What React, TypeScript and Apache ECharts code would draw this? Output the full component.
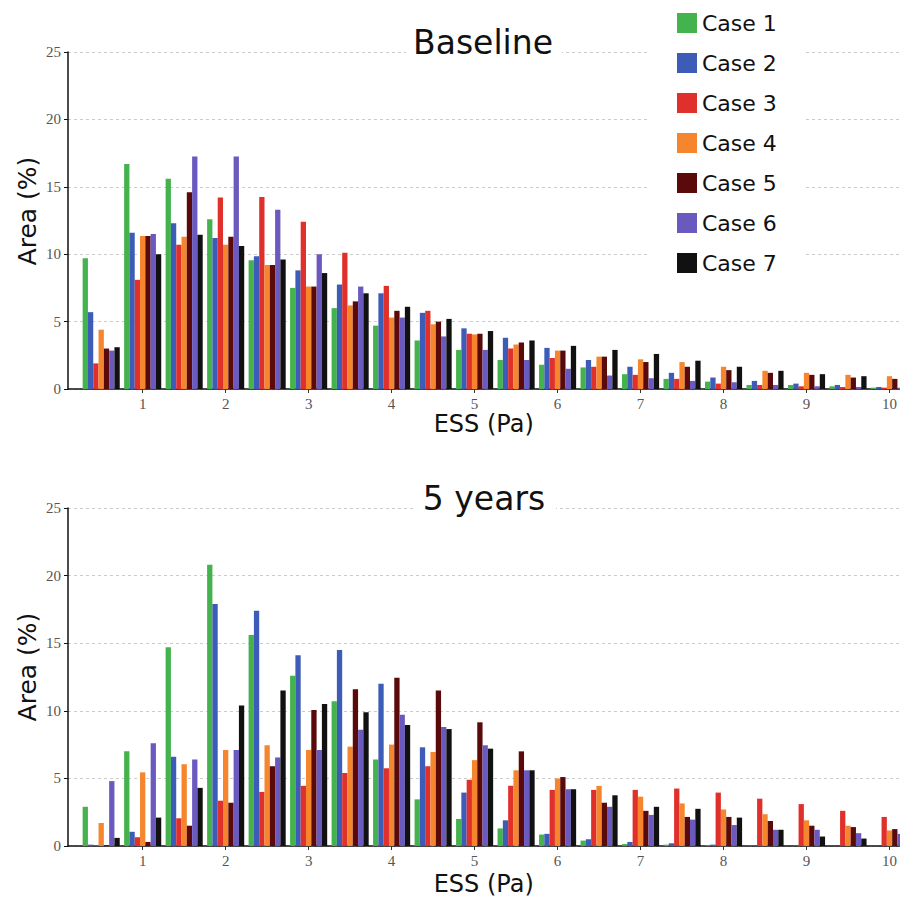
import React, { useEffect, useRef } from "react";
import * as echarts from "echarts";

// ESS bin centres (Pa)
const bins = [0.5, 1, 1.5, 2, 2.5, 3, 3.5, 4, 4.5, 5, 5.5, 6, 6.5, 7, 7.5, 8, 8.5, 9, 9.5, 10];
const xTickValues = [1, 2, 3, 4, 5, 6, 7, 8, 9, 10];
const caseNames = ["Case 1", "Case 2", "Case 3", "Case 4", "Case 5", "Case 6", "Case 7"];
const caseColors = ["#45b34d", "#3d5cb8", "#e0302c", "#f5862d", "#5a0a0a", "#6a5ac0", "#111111"];

// Baseline panel, Area (%)
const baseCase1 = [9.7, 16.7, 15.6, 12.6, 9.55, 7.5, 6.0, 4.7, 3.6, 2.9, 2.15, 1.8, 1.6, 1.1, 0.75, 0.55, 0.3, 0.3, 0.2, 0.1];
const baseCase2 = [5.7, 11.6, 12.3, 11.2, 9.85, 8.8, 7.75, 7.1, 5.65, 4.5, 3.8, 3.05, 2.15, 1.65, 1.2, 0.85, 0.6, 0.4, 0.3, 0.15];
const baseCase3 = [1.9, 8.1, 10.7, 14.2, 14.25, 12.4, 10.1, 7.65, 5.8, 4.1, 3.0, 2.3, 1.65, 1.05, 0.75, 0.4, 0.3, 0.2, 0.15, 0.1];
const baseCase4 = [4.4, 11.35, 11.3, 10.7, 9.2, 7.6, 6.2, 5.3, 4.8, 4.05, 3.3, 2.85, 2.4, 2.2, 2.0, 1.65, 1.35, 1.2, 1.05, 0.95];
const baseCase5 = [3.0, 11.35, 14.6, 11.3, 9.2, 7.6, 6.5, 5.8, 5.0, 4.1, 3.45, 2.85, 2.4, 2.0, 1.65, 1.4, 1.2, 1.05, 0.85, 0.75];
const baseCase6 = [2.85, 11.5, 17.25, 17.25, 13.3, 10.0, 7.6, 5.3, 3.9, 2.9, 2.15, 1.5, 1.0, 0.8, 0.6, 0.5, 0.3, 0.2, 0.15, 0.1];
const baseCase7 = [3.1, 10.0, 11.45, 10.6, 9.6, 8.6, 7.1, 6.1, 5.2, 4.3, 3.6, 3.2, 2.9, 2.6, 2.1, 1.65, 1.35, 1.1, 0.95, 0.8];

// 5 years panel, Area (%)
const fiveCase1 = [2.9, 7.0, 14.7, 20.8, 15.6, 12.6, 10.7, 6.4, 3.45, 2.0, 1.3, 0.85, 0.4, 0.15, 0.1, 0.05, 0.02, 0, 0, 0];
const fiveCase2 = [0.1, 1.05, 6.6, 17.9, 17.4, 14.1, 14.5, 12.0, 7.3, 3.95, 1.9, 0.9, 0.5, 0.3, 0.2, 0.1, 0.05, 0.05, 0, 0];
const fiveCase3 = [0.05, 0.65, 2.05, 3.35, 4.0, 4.45, 5.4, 5.75, 5.9, 4.9, 4.45, 4.15, 4.15, 4.15, 4.25, 3.95, 3.5, 3.1, 2.6, 2.15];
const fiveCase4 = [1.7, 5.45, 6.05, 7.1, 7.45, 7.1, 7.35, 7.5, 6.95, 6.35, 5.6, 5.0, 4.45, 3.65, 3.15, 2.7, 2.35, 1.9, 1.5, 1.15];
const fiveCase5 = [0.05, 0.3, 1.5, 3.2, 5.9, 10.05, 11.6, 12.45, 11.5, 9.15, 7.0, 5.1, 3.2, 2.6, 2.15, 2.15, 1.85, 1.5, 1.4, 1.25];
const fiveCase6 = [4.8, 7.6, 6.4, 7.1, 6.55, 7.1, 8.6, 9.7, 8.8, 7.45, 5.6, 4.2, 2.9, 2.3, 1.95, 1.55, 1.2, 1.2, 0.95, 0.9];
const fiveCase7 = [0.6, 2.1, 4.3, 10.4, 11.5, 10.5, 9.9, 8.95, 8.65, 7.2, 5.6, 4.2, 3.75, 2.9, 2.75, 2.1, 1.2, 0.7, 0.55, 0.4];

const baseSeries = [baseCase1, baseCase2, baseCase3, baseCase4, baseCase5, baseCase6, baseCase7];
const fiveSeries = [fiveCase1, fiveCase2, fiveCase3, fiveCase4, fiveCase5, fiveCase6, fiveCase7];
const panelTitles = ["Baseline", "5 years"];

const SANS = "DejaVu Sans";
const SERIF = "Liberation Serif";

function makeAxes() {
  const xAxis = [0, 1].map((i) => ({
    type: "value",
    gridIndex: i,
    min: 0.1,
    max: 10.12,
    name: "ESS (Pa)",
    nameLocation: "middle",
    nameGap: i === 0 ? 18 : 26,
    nameTextStyle: { fontFamily: SANS, fontSize: 24, color: "#111" },
    axisLine: { show: true, onZero: false, lineStyle: { color: "#111", width: 1.5 } },
    axisTick: { show: true, customValues: xTickValues, length: 4, lineStyle: { color: "#333" } },
    axisLabel: { customValues: xTickValues, fontFamily: SERIF, fontSize: 15, color: "#555", margin: 7 },
    splitLine: { show: false },
  }));
  const yAxis = [0, 1].map((i) => ({
    type: "value",
    gridIndex: i,
    min: 0,
    max: 25,
    interval: 5,
    axisLine: { show: true, lineStyle: { color: "#111", width: 1.5 } },
    axisTick: { show: true, length: 4, lineStyle: { color: "#111" } },
    axisLabel: { fontFamily: SERIF, fontSize: 15, color: "#555", margin: 7 },
    splitLine: { show: true, lineStyle: { color: "#cccccc", type: [3, 3], width: 1 } },
  }));
  return { xAxis, yAxis };
}

function makeSeries() {
  const out: any[] = [];
  [baseSeries, fiveSeries].forEach((panel, p) => {
    panel.forEach((vals, c) => {
      out.push({
        type: "bar",
        name: caseNames[c],
        xAxisIndex: p,
        yAxisIndex: p,
        data: bins.map((b, k) => [b, vals[k]]),
        barWidth: 5.3,
        barGap: "0%",
        clip: true,
        itemStyle: { color: caseColors[c] },
      });
    });
  });
  return out;
}

function textEl(text: string, x: number, y: number, size: number, rotation = 0) {
  return {
    type: "text",
    x,
    y,
    rotation,
    z: 60,
    style: {
      text,
      font: `normal ${size}px "${SANS}"`,
      fill: "#111",
      align: "center",
      verticalAlign: "middle",
      textAlign: "center",
      textVerticalAlign: "middle",
    },
  };
}

export default function App() {
  const ref = useRef<HTMLDivElement>(null);
  useEffect(() => {
    if (!ref.current) return;
    const chart = echarts.init(ref.current, null, { renderer: "svg" });
    const { xAxis, yAxis } = makeAxes();
    const option: any = {
      animation: false,
      backgroundColor: "#fff",
      grid: [
        { left: 68, right: 0, top: 52, height: 337 },
        { left: 68, right: 0, top: 508, height: 338 },
      ],
      xAxis,
      yAxis,
      legend: {
        orient: "vertical",
        left: 649,
        top: 2,
        icon: "rect",
        itemWidth: 20,
        itemHeight: 20,
        itemGap: 18,
        padding: [10, 28, 6, 28],
        backgroundColor: "#fff",
        data: caseNames,
        textStyle: { fontFamily: SANS, fontSize: 22, color: "#111" },
      },
      graphic: [
        { type: "rect", z: 55, shape: { x: 406, y: 45, width: 156, height: 12 }, style: { fill: "#fff" } },
        { type: "rect", z: 55, shape: { x: 416, y: 501, width: 140, height: 12 }, style: { fill: "#fff" } },
        textEl(panelTitles[0], 483, 42, 33),
        textEl(panelTitles[1], 484, 498, 33),
        textEl("Area (%)", 27, 211, 25, Math.PI / 2),
        textEl("Area (%)", 27, 667, 25, Math.PI / 2),
      ],
      series: makeSeries(),
    };
    chart.setOption(option);
    return () => chart.dispose();
  }, []);
  return (
    <div
      ref={ref}
      style={{ position: "absolute", left: 0, top: 0, width: 900, height: 902, background: "#fff" }}
    />
  );
}
